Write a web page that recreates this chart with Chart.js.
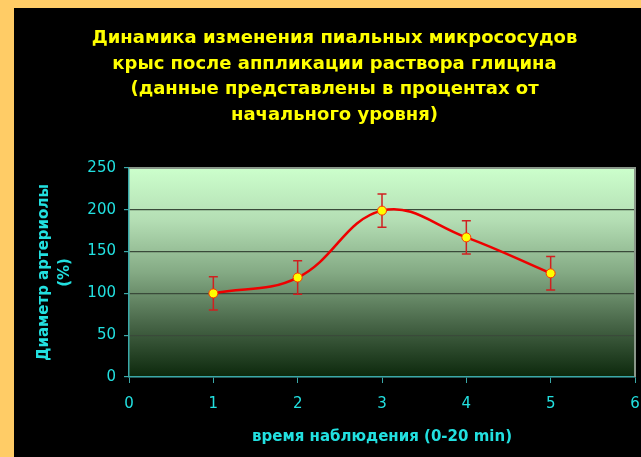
<!DOCTYPE html>
<html>
<head>
<meta charset="utf-8">
<script src="https://cdn.jsdelivr.net/npm/chart.js@4"></script>
<style>
    html, body { margin: 0; padding: 0; }
    body { width: 641px; height: 457px; background: #ffcc66; overflow: hidden; position: relative; }
    #wrap { position: absolute; left: 14px; top: 8px; width: 641px; height: 449px; background: #000; }
    canvas { display: block; }
</style>
</head>
<body>
<div id="wrap"><canvas id="glycineChart" width="641" height="449"></canvas></div>
<script>
// --- DATA ---
const timePoints = [1, 2, 3, 4, 5];
const diameterPct = [100, 119, 199, 167, 124];
const errorPct = [20, 20, 20, 20, 20];
const xTicks = [0, 1, 2, 3, 4, 5, 6];
const yTicks = [0, 50, 100, 150, 200, 250];

const titleLines = [
    'Динамика изменения пиальных микрососудов',
    'крыс после аппликации раствора глицина',
    '(данные представлены в процентах от',
    'начального уровня)'
];
const yTitle = ['Диаметр артериолы', '(%)'];
const xTitle = 'время наблюдения (0-20 min)';

// --- COLORS ---
const colors = {
    yellow: '#ffff00',
    cyan: '#22e0e0',
    axis: '#3aa8a8',
    grid: '#3a4a3a',
    frame: '#8a968a',
    line: '#ee0000',
    errBar: '#d02020'
};

// gradient fill of the plot area + grey frame on top / right
const plotBackground = {
    id: 'plotBackground',
    beforeDraw(chart) {
        const { ctx, chartArea: a } = chart;
        const g = ctx.createLinearGradient(0, a.top, 0, a.bottom);
        g.addColorStop(0, '#ccffcc');
        g.addColorStop(0.25, '#b4deb4');
        g.addColorStop(0.5, '#84aa84');
        g.addColorStop(0.75, '#476547');
        g.addColorStop(1, '#0c280c');
        ctx.save();
        ctx.fillStyle = g;
        ctx.fillRect(a.left, a.top, a.right - a.left, a.bottom - a.top);
        ctx.restore();
    },
    beforeDatasetsDraw(chart) {
        const { ctx, chartArea: a } = chart;
        ctx.save();
        ctx.strokeStyle = colors.frame;
        ctx.lineWidth = 2;
        ctx.beginPath();
        ctx.moveTo(a.left, a.top);
        ctx.lineTo(a.right, a.top);
        ctx.lineTo(a.right, a.bottom);
        ctx.stroke();
        ctx.restore();
    }
};

// vertical error bars, drawn under the line and markers
const errorBars = {
    id: 'errorBars',
    beforeDatasetsDraw(chart) {
        const { ctx, scales: { x, y } } = chart;
        ctx.save();
        ctx.strokeStyle = colors.errBar;
        ctx.lineWidth = 1.5;
        timePoints.forEach((t, i) => {
            const px = x.getPixelForValue(t);
            const top = y.getPixelForValue(diameterPct[i] + errorPct[i]);
            const bot = y.getPixelForValue(diameterPct[i] - errorPct[i]);
            ctx.beginPath();
            ctx.moveTo(px, top); ctx.lineTo(px, bot);
            ctx.moveTo(px - 4.5, top); ctx.lineTo(px + 4.5, top);
            ctx.moveTo(px - 4.5, bot); ctx.lineTo(px + 4.5, bot);
            ctx.stroke();
        });
        ctx.restore();
    }
};

const ctx = document.getElementById('glycineChart').getContext('2d');
const glycineChart = new Chart(ctx, {
    type: 'line',
    data: {
        datasets: [{
            data: timePoints.map((t, i) => ({ x: t, y: diameterPct[i] })),
            borderColor: colors.line,
            borderWidth: 2.5,
            tension: 0.4,
            pointRadius: 4.5,
            pointBackgroundColor: colors.yellow,
            pointBorderColor: '#ff3300',
            pointBorderWidth: 1,
            fill: false
        }]
    },
    options: {
        responsive: false,
        animation: false,
        // equal side padding keeps the title centred like the original
        layout: { padding: { left: 20, right: 20, top: 0, bottom: 0 } },
        plugins: {
            legend: { display: false },
            tooltip: { enabled: false },
            title: {
                display: true,
                text: titleLines,
                color: colors.yellow,
                font: { family: 'DejaVu Sans', size: 18, weight: 'bold', lineHeight: '25.5px' },
                padding: { top: 18, bottom: 40 }
            }
        },
        scales: {
            x: {
                type: 'linear',
                min: xTicks[0],
                max: xTicks[xTicks.length - 1],
                ticks: {
                    stepSize: 1,
                    color: colors.cyan,
                    font: { family: 'DejaVu Sans', size: 15 },
                    padding: 12
                },
                grid: { drawOnChartArea: false, tickColor: colors.axis, tickLength: 6 },
                border: { color: colors.axis, width: 1.5 },
                title: {
                    display: true,
                    text: xTitle,
                    color: colors.cyan,
                    font: { family: 'DejaVu Sans', size: 15, weight: 'bold', lineHeight: '18px' },
                    padding: { top: 0, bottom: 11 }
                },
                afterFit: (scale) => { scale.height = 80; }
            },
            y: {
                min: yTicks[0],
                max: yTicks[yTicks.length - 1],
                ticks: {
                    stepSize: 50,
                    color: colors.cyan,
                    font: { family: 'DejaVu Sans', size: 15 },
                    padding: 8
                },
                grid: { color: colors.grid, lineWidth: 1.2, tickColor: colors.axis, tickLength: 5 },
                border: { color: colors.axis, width: 1.5 },
                title: {
                    display: true,
                    text: yTitle,
                    color: colors.cyan,
                    font: { family: 'DejaVu Sans', size: 15, weight: 'bold', lineHeight: '21px' },
                    padding: { top: 0, bottom: 0 }
                },
                afterFit: (scale) => { scale.width = 95; }
            }
        }
    },
    plugins: [plotBackground, errorBars]
});
</script>
</body>
</html>
